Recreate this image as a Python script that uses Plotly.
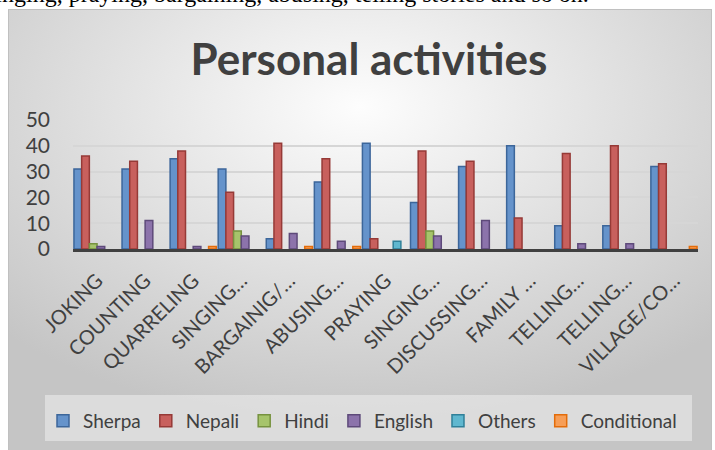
import base64
import plotly.graph_objects as go

categories = ["JOKING", "COUNTING", "QUARRELING", "SINGING…", "BARGAINIG/…", "ABUSING…",
              "PRAYING", "SINGING…", "DISCUSSING…", "FAMILY …", "TELLING…", "TELLING…",
              "VILLAGE/CO…"]
sherpa = [31, 31, 35, 31, 4, 26, 41, 18, 32, 40, 9, 9, 32]
nepali = [36, 34, 38, 22, 41, 35, 4, 38, 34, 12, 37, 40, 33]
hindi = [2, None, None, 7, None, None, None, 7, None, None, None, None, None]
english = [1, 11, 1, 5, 6, 3, None, 5, 11, None, 2, 2, None]
others = [None, None, None, None, None, None, 3, None, None, None, None, None, None]
conditional = [None, None, 1, None, 1, 1, None, None, None, None, None, None, 1]
y_ticks = [0, 10, 20, 30, 40, 50]

series = [
    ("Sherpa", sherpa, "#6593cb", "#3c669a"),
    ("Nepali", nepali, "#c8605d", "#963a37"),
    ("Hindi", hindi, "#a6c46b", "#76923f"),
    ("English", english, "#8c73ab", "#5e4a7a"),
    ("Others", others, "#5fb7cf", "#2f8099"),
    ("Conditional", conditional, "#f79e57", "#e36c0a"),
]

FONT = "Lato, 'Open Sans', sans-serif"
TXT = "#404040"

# plot-area pixel geometry
W, H = 715, 450
L, R, T, B = 73, 17, 120, 201
pw, ph = W - L - R, H - T - B

def px_x(x):
    return (x - L) / pw

def px_y(y):
    return (H - B - y) / ph

x_pos = list(range(len(categories)))

fig = go.Figure()
for name, vals, fill, line in series:
    fig.add_trace(go.Bar(
        x=x_pos, y=vals, name=name,
        marker=dict(color=fill, line=dict(color=line, width=1.5)),
    ))

# background gradient box
bx, by = 8, 9
bw, bh = 712 - bx, 452 - by
svg = (f'<svg xmlns="http://www.w3.org/2000/svg" width="{bw}" height="{bh}" '
       f'viewBox="0 0 {bw} {bh}" preserveAspectRatio="none">'
       '<defs><radialGradient id="g" cx="50%" cy="22%" r="72%">'
       '<stop offset="0" stop-color="#fdfdfd"/><stop offset="1" stop-color="#c5c5c5"/>'
       '</radialGradient></defs>'
       f'<rect x="0.5" y="0.5" width="{bw-1}" height="{bh-1}" fill="url(#g)" stroke="#c0c0c0"/></svg>')
src = "data:image/svg+xml;base64," + base64.b64encode(svg.encode()).decode()

fig.update_layout(
    width=W, height=H,
    margin=dict(l=L, r=R, t=T, b=B, pad=0, autoexpand=False),
    paper_bgcolor="white",
    plot_bgcolor="rgba(0,0,0,0)",
    barmode="group",
    bargap=0.04,
    bargroupgap=0,
    font=dict(family=FONT, color=TXT),
    title=dict(text="<b>Personal activities</b>", x=369 / W, xref="container", xanchor="center",
               y=1 - 60 / H, yanchor="middle",
               font=dict(family=FONT, size=44, color=TXT)),
    images=[dict(source=src, xref="paper", yref="paper",
                 x=px_x(bx), y=px_y(by), sizex=bw / pw, sizey=bh / ph,
                 xanchor="left", yanchor="top", sizing="stretch", layer="below")],
    shapes=[dict(type="rect", xref="paper", yref="paper",
                 x0=px_x(45), x1=px_x(692), y0=px_y(395), y1=px_y(441),
                 fillcolor="rgba(238,238,238,0.55)", line=dict(width=0), layer="below")],
    legend=dict(orientation="h", xref="paper", x=px_x(43), xanchor="left",
                yref="paper", y=px_y(402), yanchor="top",
                bgcolor="rgba(0,0,0,0)",
                font=dict(family=FONT, size=19, color=TXT),
                itemclick=False),
    annotations=[dict(text="singing, praying, bargaining, abusing, telling stories and so on.",
                      xref="paper", yref="paper", x=px_x(-16), y=px_y(9),
                      xanchor="left", yanchor="bottom", showarrow=False,
                      font=dict(family="'Liberation Serif', 'Times New Roman', serif",
                                size=24, color="black"))],
    xaxis=dict(tickmode="array", tickvals=x_pos, ticktext=categories,
               tickangle=-45, range=[-0.5, len(categories) - 0.5],
               showline=True, linecolor="#404040", linewidth=3,
               showgrid=False, ticks="", ticklabelstandoff=9,
               tickfont=dict(size=20, color=TXT),
               zeroline=False, automargin=False),
    yaxis=dict(range=[0, 50], tickvals=y_ticks, showgrid=True,
               gridcolor="#d6d6d6", gridwidth=2, zeroline=False,
               showline=False, ticks="", ticklabelstandoff=22,
               tickfont=dict(size=21, color=TXT), automargin=False),
)

fig.write_html("out.html", config={"displayModeBar": False},
               post_script="document.body.style.margin='0px';")
